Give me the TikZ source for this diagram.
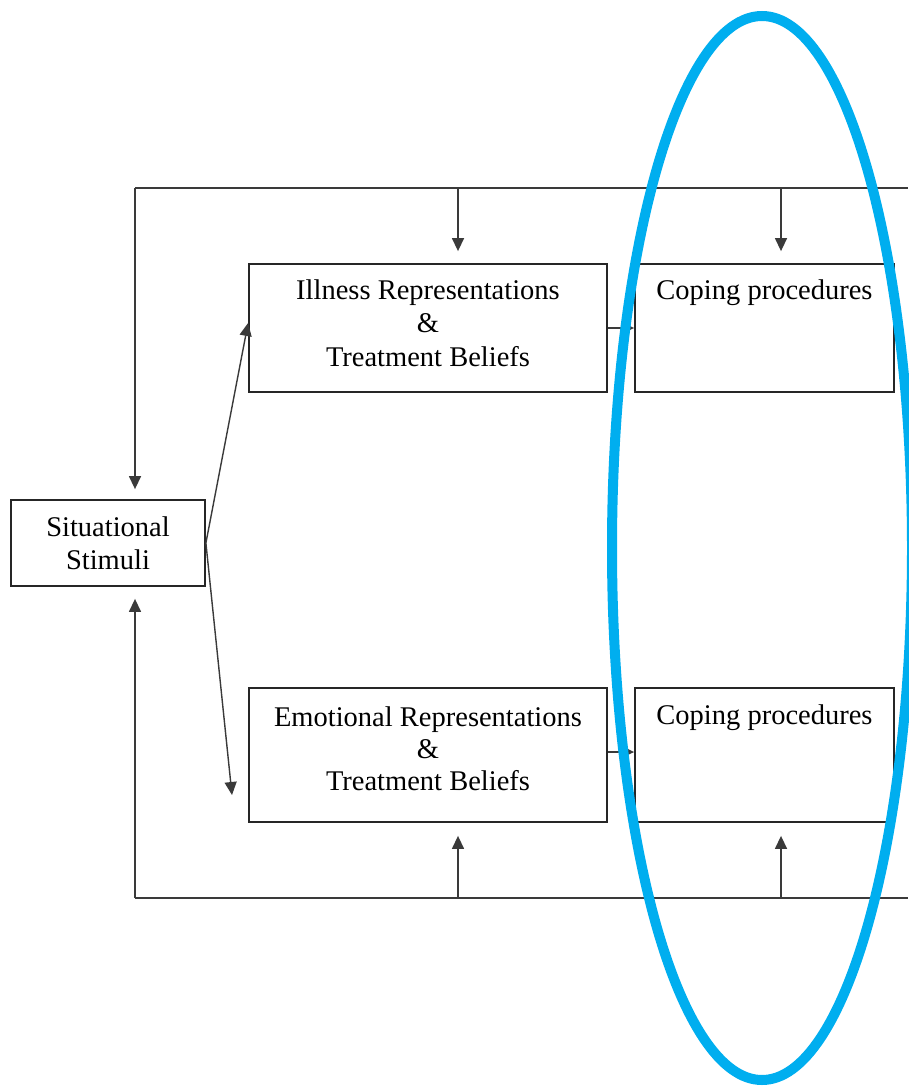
\documentclass[tikz,border=0pt]{standalone}
\usepackage{fontspec}
\setmainfont{Liberation Serif}
\usetikzlibrary{arrows.meta}
\definecolor{ovalblue}{HTML}{00AEEF}
\definecolor{linegray}{HTML}{3A3A3A}
\begin{document}
\begin{tikzpicture}[x=1pt,y=-1pt,
  box/.style={draw=black!85,line width=1.8pt,fill=white,inner sep=0pt,align=center,
    font=\fontsize{28.5}{33}\selectfont},
  lbl/.style={inner sep=0pt,align=center,font=\fontsize{28.5}{33}\selectfont},
  conn/.style={draw=linegray,line width=1.4pt},
  arr/.style={conn,-{Triangle[length=13pt,width=12pt]}}]
\useasboundingbox (0,0) rectangle (908,1086);
\fill[white] (0,0) rectangle (908,1086);
% boxes
\node[box,minimum width=194pt,minimum height=86pt] (stim) at (108,543) {Situational\\Stimuli};
\node[box,minimum width=358pt,minimum height=128pt] (ill) at (428,328) {};
\node[lbl,font=\fontsize{28.5}{33.5}\selectfont] (illt) at ([yshift=5pt]ill.center) {Illness Representations\\\&\\Treatment Beliefs};
\node[box,minimum width=259pt,minimum height=128pt] (cop1) at (764.5,328) {};
\node[lbl,anchor=north] (cop1t) at ([yshift=-16pt]cop1.north) {Coping procedures};
\node[box,minimum width=358pt,minimum height=134pt] (emo) at (428,755) {};
\node[lbl,font=\fontsize{28.5}{32}\selectfont] (emot) at ([yshift=6pt]emo.center) {Emotional Representations\\\&\\Treatment Beliefs};
\node[box,minimum width=259pt,minimum height=134pt] (cop2) at (764.5,755) {};
\node[lbl,anchor=north] (cop2t) at ([yshift=-17pt]cop2.north) {Coping procedures};
% frame coordinates
\coordinate (tl) at (135,188);
\coordinate (tr) at (908,188);
\coordinate (t1) at (458,188);
\coordinate (t2) at (781,188);
\coordinate (bl) at (135,898);
\coordinate (br) at (908,898);
\coordinate (b1) at (458,898);
\coordinate (b2) at (781,898);
\coordinate (e1) at (232,795);
% frame lines
\draw[conn] (tl) -- (tr);
\draw[conn] (bl) -- (br);
\draw[arr] (tl) -- ([yshift=10pt]tl |- stim.north);
\draw[arr] (bl) -- ([yshift=-12pt]bl |- stim.south);
\draw[arr,shorten >=12pt] (t1) -- (t1 |- ill.north);
\draw[arr,shorten >=12pt] (t2) -- (t2 |- cop1.north);
\draw[arr,shorten >=13pt] (b1) -- (b1 |- emo.south);
\draw[arr,shorten >=13pt] (b2) -- (b2 |- cop2.south);
% diagonal arrows
\draw[arr] (stim.east) -- ([yshift=5pt]ill.west);
\draw[arr] (stim.east) -- (e1);
% small arrows between boxes
\draw[arr] (ill.east) -- (cop1.west);
\draw[arr] ([yshift=3pt]emo.east) -- ([yshift=3pt]cop2.west);
% highlight oval
\draw[ovalblue,line width=10pt] (762,548) ellipse [x radius=150pt,y radius=532pt];
\end{tikzpicture}
\end{document}
